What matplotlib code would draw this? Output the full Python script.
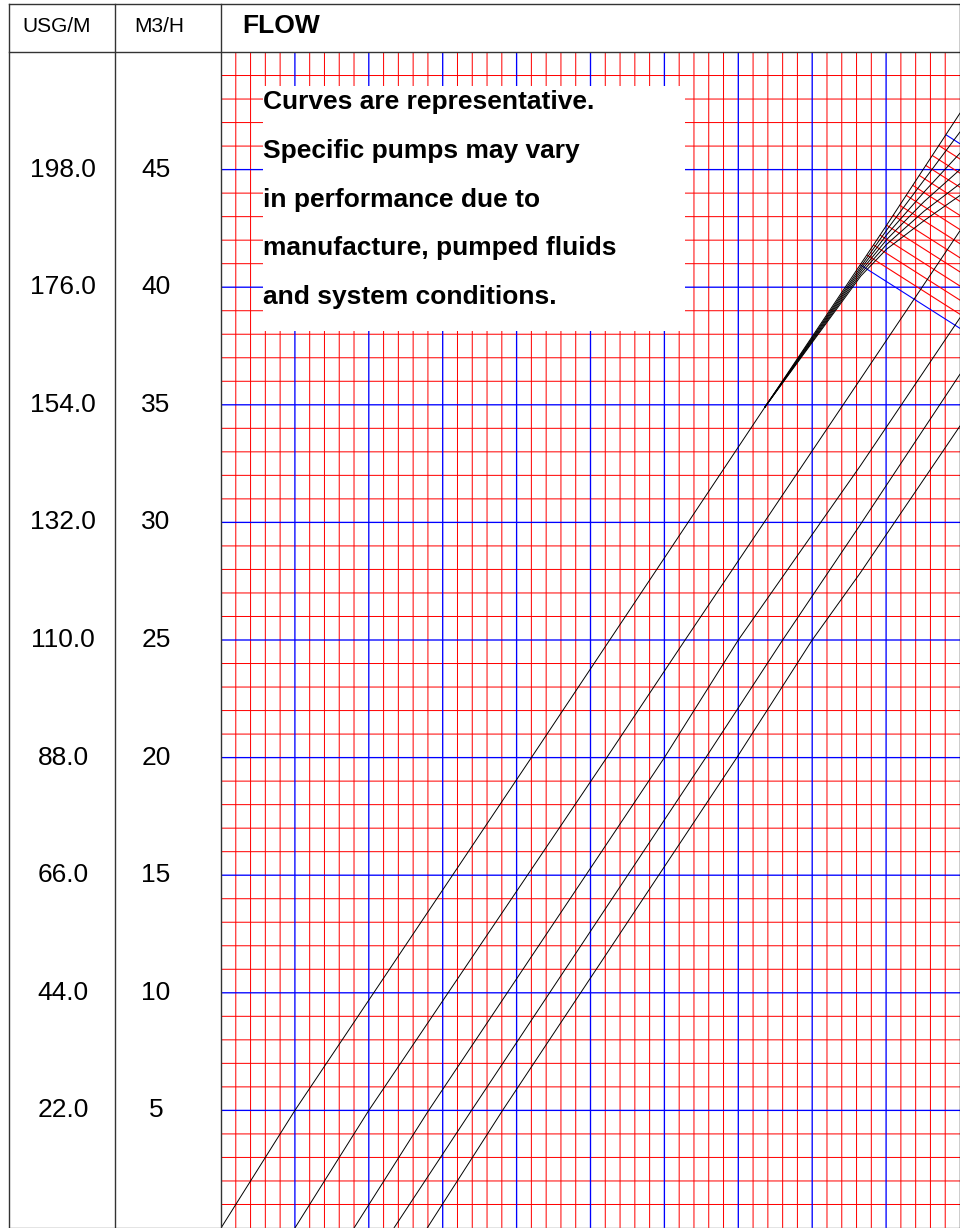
import numpy as np
import matplotlib.pyplot as plt

plt.rcParams['font.family'] = ['Liberation Sans', 'DejaVu Sans']

# table labels
usg_labels = ['198.0', '176.0', '154.0', '132.0', '110.0', '88.0', '66.0', '44.0', '22.0']
m3h_labels = ['45', '40', '35', '30', '25', '20', '15', '10', '5']
m3h_values = [45, 40, 35, 30, 25, 20, 15, 10, 5]

note_lines = ['Curves are representative.',
              'Specific pumps may vary',
              'in performance due to',
              'manufacture, pumped fluids',
              'and system conditions.']

# straight-ish black lines rising from the bottom (x in grid units, y in M3/H)
line1_x = [0.0, 1.0, 4.2, 5.26, 7.36]
line1_y = [0.0, 5.0, 20.0, 25.0, 34.9]
line2_x = [1.0, 2.0, 5.22, 6.28, 8.28, 10.0]
line2_y = [0.0, 5.0, 20.0, 25.0, 34.35, 42.4]
line3_x = [1.8, 2.81, 6.0, 7.0, 8.65, 10.0]
line3_y = [0.0, 5.0, 20.0, 25.0, 32.4, 38.7]
line4_x = [2.34, 3.39, 6.56, 7.6, 8.65, 10.0]
line4_y = [0.0, 5.0, 20.0, 25.0, 29.9, 36.3]
line5_x = [2.79, 3.81, 6.98, 8.0, 8.65, 10.0]
line5_y = [0.0, 5.0, 20.0, 25.0, 27.85, 34.1]

# fan of curves leaving line 1 near the top right
fan_x = [7.36, 8.0, 8.65, 9.0, 9.5, 10.0]
fan_a = [34.9, 37.9, 40.95, 42.6, 45.0, 47.4]
fan_b = [34.9, 37.85, 40.85, 42.4, 44.5, 46.6]
fan_c = [34.9, 37.8, 40.75, 42.2, 44.0, 45.7]
fan_d = [34.9, 37.75, 40.65, 42.0, 43.6, 45.0]
fan_e = [34.9, 37.7, 40.55, 41.8, 43.2, 44.4]
fan_f = [34.9, 37.65, 40.45, 41.6, 42.8, 43.9]

# down-sloping lines hanging from curve a (intercepts)
diag_slope = -2.0
diag_red = [58.85, 59.45, 60.05, 60.65, 61.25, 61.85, 62.45, 63.05, 63.65, 64.25, 64.85, 65.45]
diag_blue = [58.25, 66.1]

fig = plt.figure(figsize=(9.6, 12.28), dpi=100)

ax = fig.add_axes([221 / 960, 0, 739 / 960, 1176 / 1228])
ax.set_xlim(0, 10)
ax.set_ylim(0, 50)
ax.axis('off')

for v in np.arange(0.2, 10, 0.2):
    if abs(v - round(v)) > 1e-6:
        ax.axvline(v, color='#ff0000', lw=0.72, snap=False, zorder=1)
for v in range(1, 50):
    if v % 5:
        ax.axhline(v, color='#ff0000', lw=0.72, snap=False, zorder=1)
for v in range(1, 10):
    ax.axvline(v, color='#0000ff', lw=0.95, snap=False, zorder=2)
for v in range(5, 50, 5):
    ax.axhline(v, color='#0000ff', lw=0.95, snap=False, zorder=2)

for xs, ys in [(line1_x, line1_y), (line2_x, line2_y), (line3_x, line3_y),
               (line4_x, line4_y), (line5_x, line5_y)]:
    ax.plot(xs, ys, color='black', lw=0.7, zorder=4)

xx = np.linspace(fan_x[0], fan_x[-1], 300)
for fy in [fan_a, fan_b, fan_c, fan_d, fan_e, fan_f]:
    ax.plot(xx, np.interp(xx, fan_x, fy), color='black', lw=0.7, zorder=4)

# start of each diagonal where it meets curve a
ya = np.interp(xx, fan_x, fan_a)
for cs, col in [(diag_red, '#ff0000'), (diag_blue, '#0000ff')]:
    for c in cs:
        d = ya - (c + diag_slope * xx)
        i = np.argmax(d > 0)
        x0 = xx[i]
        ax.plot([x0, 10], [c + diag_slope * x0, c + diag_slope * 10],
                color=col, lw=0.8, zorder=3)

# overlay in pixel units for the table and the note box
tab = fig.add_axes([0, 0, 1, 1])
tab.set_xlim(0, 960)
tab.set_ylim(1228, 0)
tab.axis('off')

tab.add_patch(plt.Rectangle((263, 86), 422, 245, facecolor='white',
                            edgecolor='none', zorder=5))
for i, t in enumerate(note_lines):
    tab.text(263, 102 + i * 48.8, t, fontsize=19, fontweight='bold',
             ha='left', va='center', zorder=6)

# table frame
lc = '#333333'
tab.plot([9, 960], [4, 4], color=lc, lw=1)
tab.plot([9, 960], [52, 52], color=lc, lw=1)
tab.plot([9, 960], [1227.5, 1227.5], color='#777777', lw=1)
for xv in [9, 115, 221]:
    tab.plot([xv, xv], [4, 1228], color=lc, lw=1)
tab.plot([959.5, 959.5], [4, 1228], color='black', lw=1)

tab.text(22, 26, 'USG/M', fontsize=15, ha='left', va='center')
tab.text(134, 26, 'M3/H', fontsize=15, ha='left', va='center')
tab.text(242, 26, 'FLOW', fontsize=19, fontweight='bold', ha='left', va='center')

for lab_u, lab_m, v in zip(usg_labels, m3h_labels, m3h_values):
    py = 1228 - v * 1176 / 50
    tab.text(63, py, lab_u, fontsize=19, ha='center', va='center')
    tab.text(156, py, lab_m, fontsize=19, ha='center', va='center')

fig.savefig('out.png', dpi=100)
